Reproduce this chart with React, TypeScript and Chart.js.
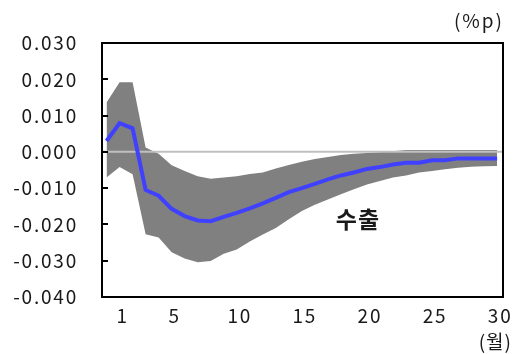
import { useEffect, useRef } from "react";
import { Chart, registerables } from "chart.js";

Chart.register(...registerables);

// Months after the shock (0 = impact period)
const MONTHS = [0, 1, 2, 3, 4, 5, 6, 7, 8, 9, 10, 11, 12, 13, 14, 15, 16, 17, 18, 19, 20, 21, 22, 23, 24, 25, 26, 27, 28, 29, 30];

// Impulse response of exports (%p)
const RESPONSE = [
  0.003, 0.0079, 0.0065, -0.0105, -0.0121, -0.0157, -0.0177, -0.0189, -0.0191, -0.0179,
  -0.0168, -0.0156, -0.0142, -0.0127, -0.0111, -0.01, -0.0088, -0.0076, -0.0065, -0.0057,
  -0.0047, -0.0042, -0.0035, -0.003, -0.003, -0.0023, -0.0023, -0.0018, -0.0018, -0.0018, -0.0018,
];

// Confidence band bounds
const UPPER = [
  0.0136, 0.0192, 0.0192, 0.0012, -0.0005, -0.0037, -0.0053, -0.0067, -0.0074, -0.0071,
  -0.0067, -0.0061, -0.0057, -0.0046, -0.0036, -0.0027, -0.002, -0.0014, -0.0009, -0.0005,
  -0.0003, -0.0001, 0.0002, 0.0005, 0.0005, 0.0005, 0.0005, 0.0005, 0.0005, 0.0005, 0.0005,
];
const LOWER = [
  -0.0071, -0.0042, -0.0062, -0.0227, -0.0236, -0.0277, -0.0294, -0.0304, -0.0301, -0.0281,
  -0.0269, -0.0247, -0.0228, -0.021, -0.0186, -0.0163, -0.0146, -0.0131, -0.0117, -0.0103,
  -0.009, -0.008, -0.0071, -0.0065, -0.0057, -0.0053, -0.0048, -0.0044, -0.0041, -0.004, -0.0039,
];

const X_TICKS = [1, 5, 10, 15, 20, 25, 30];
const Y_MIN = -0.04;
const Y_MAX = 0.03;
const Y_STEP = 0.01;

const SERIES_LABEL = "수출";
const Y_UNIT = "(%p)";
const X_UNIT = "(월)";

const FONT = "'Noto Sans CJK KR', 'Noto Sans', sans-serif";
const TEXT_COLOR = "#1a1a1a";
const SPACING = "1.8px";

const decorations = {
  id: "decorations",
  beforeUpdate(chart: any) {
    chart.ctx.letterSpacing = SPACING;
  },
  beforeDraw(chart: any) {
    chart.ctx.letterSpacing = SPACING;
  },
  afterDatasetDraw(chart: any, args: any) {
    // zero reference line sits above the band but beneath the response line
    if (args.index !== 1) return;
    const { ctx, chartArea } = chart;
    const y = chart.scales.y.getPixelForValue(0);
    ctx.save();
    ctx.strokeStyle = "#c0c0c0";
    ctx.lineWidth = 2;
    ctx.beginPath();
    ctx.moveTo(chartArea.left, y);
    ctx.lineTo(chartArea.right, y);
    ctx.stroke();
    ctx.restore();
  },
  afterDraw(chart: any) {
    const { ctx, chartArea } = chart;
    const ys = chart.scales.y;
    ctx.save();
    // plot frame
    ctx.strokeStyle = "#000";
    ctx.lineWidth = 2;
    ctx.strokeRect(chartArea.left, chartArea.top, chartArea.right - chartArea.left, chartArea.bottom - chartArea.top);
    // inward tick marks on the value axis
    ctx.beginPath();
    for (const t of ys.ticks) {
      const py = Math.round(ys.getPixelForValue(t.value));
      ctx.moveTo(chartArea.left, py);
      ctx.lineTo(chartArea.left + 6, py);
    }
    ctx.stroke();
    // unit labels and series label
    ctx.fillStyle = TEXT_COLOR;
    ctx.letterSpacing = "2px";
    ctx.font = `19px ${FONT}`;
    ctx.textAlign = "right";
    ctx.textBaseline = "middle";
    ctx.fillText(Y_UNIT, 504, 21);
    ctx.letterSpacing = "1px";
    ctx.fillText(X_UNIT, 512, 342);
    ctx.letterSpacing = "1px";
    ctx.font = `bold 23px ${FONT}`;
    ctx.textAlign = "center";
    ctx.fillText(SERIES_LABEL, 358, 219);
    ctx.restore();
  },
};

export default function App() {
  const canvasRef = useRef<HTMLCanvasElement>(null);

  useEffect(() => {
    const canvas = canvasRef.current;
    if (!canvas) return;
    const chart = new Chart(canvas, {
      type: "line",
      data: {
        labels: MONTHS,
        datasets: [
          {
            label: "upper",
            data: MONTHS.map((m, i) => ({ x: m, y: UPPER[i] })),
            borderWidth: 0,
            pointRadius: 0,
            backgroundColor: "#808080",
            borderColor: "#808080",
            fill: "+1",
            order: 2,
          },
          {
            label: "lower",
            data: MONTHS.map((m, i) => ({ x: m, y: LOWER[i] })),
            borderWidth: 0,
            pointRadius: 0,
            borderColor: "#808080",
            fill: false,
            order: 1,
          },
          {
            label: SERIES_LABEL,
            data: MONTHS.map((m, i) => ({ x: m, y: RESPONSE[i] })),
            borderColor: "#4040ff",
            borderWidth: 4,
            pointRadius: 0,
            fill: false,
            order: 0,
          },
        ],
      },
      options: {
        animation: false,
        responsive: false,
        maintainAspectRatio: false,
        layout: { padding: { top: 43, right: 14, bottom: 0, left: 0 } },
        plugins: { legend: { display: false }, tooltip: { enabled: false } },
        scales: {
          x: {
            type: "linear",
            min: -0.35,
            max: 30.45,
            grid: { display: false, drawTicks: false },
            border: { display: false },
            afterBuildTicks: (scale: any) => {
              scale.ticks = X_TICKS.map((v) => ({ value: v }));
            },
            afterFit: (scale: any) => {
              scale.height = 57;
            },
            ticks: {
              autoSkip: false,
              maxRotation: 0,
              padding: 7,
              labelOffset: 3,
              color: TEXT_COLOR,
              font: { family: FONT, size: 19 },
              callback: (v: any) => String(v),
            },
          },
          y: {
            min: Y_MIN,
            max: Y_MAX,
            grid: { display: false, drawTicks: false },
            border: { display: false },
            afterFit: (scale: any) => {
              scale.width = 102;
            },
            ticks: {
              stepSize: Y_STEP,
              padding: 24,
              color: TEXT_COLOR,
              font: { family: FONT, size: 19 },
              callback: (v: any) => Number(v).toFixed(3),
            },
          },
        },
      },
      plugins: [decorations],
    });
    return () => chart.destroy();
  }, []);

  return (
    <div style={{ position: "fixed", left: 0, top: 0, width: 517, height: 354, background: "#fff" }}>
      <canvas ref={canvasRef} width={517} height={354} style={{ display: "block" }} />
    </div>
  );
}
